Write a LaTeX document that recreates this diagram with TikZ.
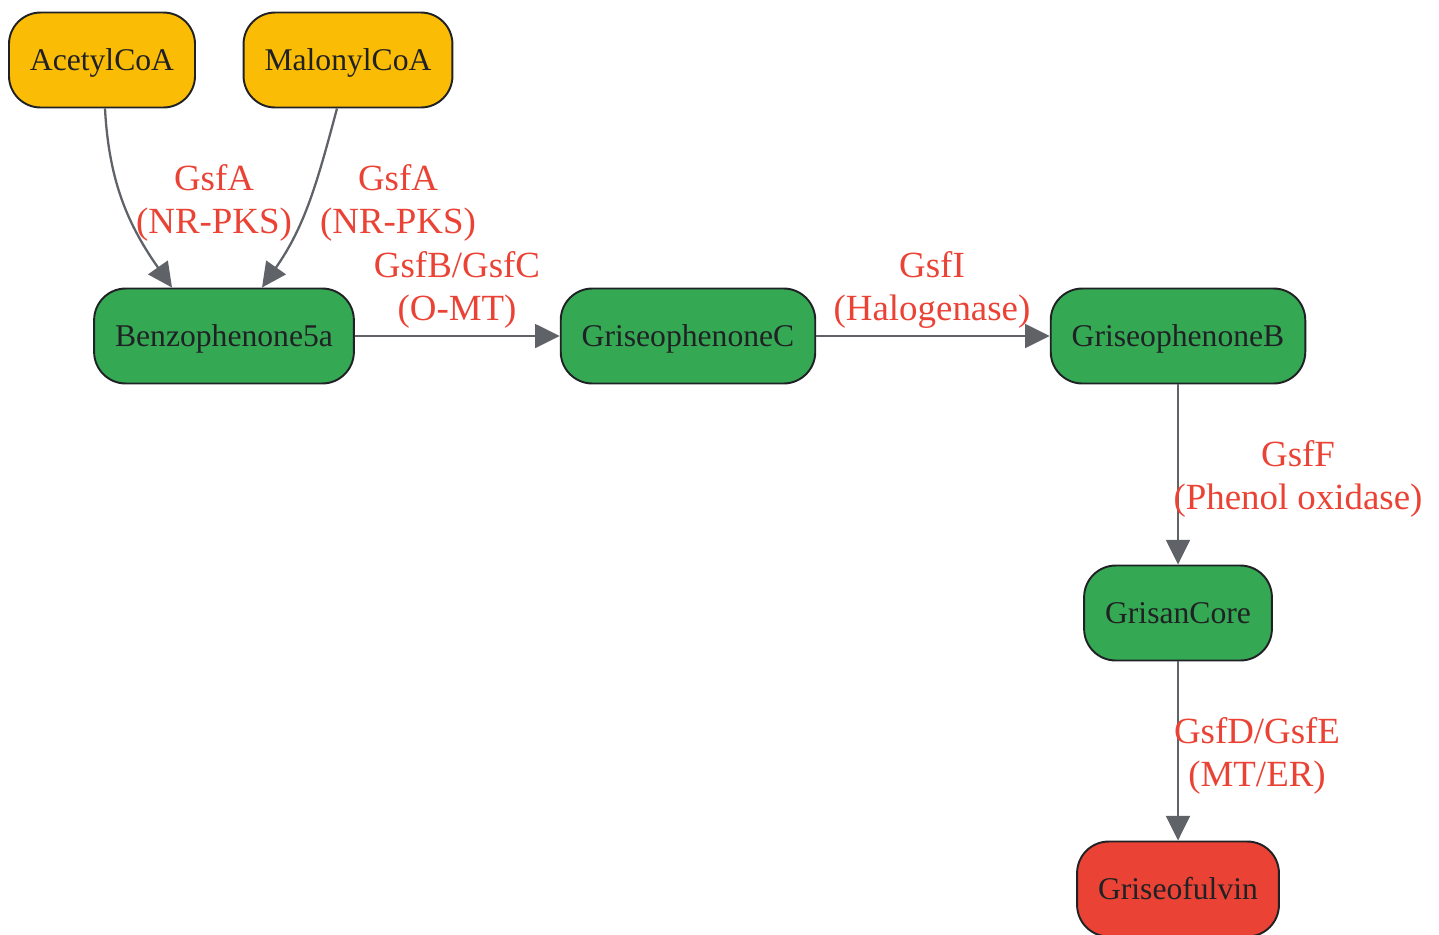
\documentclass[tikz,border=0pt]{standalone}
\usepackage{fontspec}
\setmainfont{Liberation Serif}
\usetikzlibrary{arrows.meta}

\definecolor{precursorfill}{HTML}{FBBC05}
\definecolor{intermfill}{HTML}{34A853}
\definecolor{productfill}{HTML}{EA4335}
\definecolor{boxline}{HTML}{202124}
\definecolor{edgegray}{HTML}{5F6368}
\definecolor{enzred}{HTML}{EA4335}

\tikzset{
  pathbox/.style={draw=boxline, line width=1.1pt, rounded corners=18pt,
    minimum height=1.9cm, inner xsep=0.42cm, text=boxline,
    text height=16pt, text depth=3.6pt,
    font=\fontsize{18}{20}\selectfont},
  precursor/.style={pathbox, fill=precursorfill},
  interm/.style={pathbox, fill=intermfill},
  product/.style={pathbox, fill=productfill},
  reaction/.style={draw=edgegray, line width=1.3pt,
    -{Triangle[length=14pt,width=13.5pt]}},
  enzyme/.style={text=enzred, align=center, inner sep=0pt,
    font=\fontsize{21}{24.4}\selectfont}
}

\begin{document}
\begin{tikzpicture}[x=0.02cm, y=-0.02cm]
        \useasboundingbox (0,0) rectangle (1439,934);

        % Precursors
        \node[precursor] (acetyl) at (102,60) {AcetylCoA};
        \node[precursor] (malonyl) at (348,60) {MalonylCoA};

        % Pathway intermediates
        \node[interm] (benzo) at (224,336) {Benzophenone5a};
        \node[interm] (grisC) at (688,336) {GriseophenoneC};
        \node[interm] (grisB) at (1178,336) {GriseophenoneB};
        \node[interm] (grisan) at (1178,613) {GrisanCore};

        % Final product
        \node[product] (griseo) at (1178,889) {Griseofulvin};

        % Polyketide assembly
        \draw[reaction] ([xshift=0.06cm]acetyl.south) to[out=-87,in=125] ([xshift=-1.04cm]benzo.north);
        \draw[reaction] ([xshift=-0.22cm]malonyl.south) to[out=-105,in=55] ([xshift=0.76cm]benzo.north);
        \node[enzyme] (gsfA1) at (214,203) {GsfA\\(NR-PKS)};
        \node[enzyme] (gsfA2) at (398,203) {GsfA\\(NR-PKS)};

        % Tailoring steps
        \draw[reaction] (benzo) -- (grisC);
        \node[enzyme] (gsfBC) at (457,290) {GsfB/GsfC\\(O-MT)};
        \draw[reaction] (grisC) -- (grisB);
        \node[enzyme] (gsfI) at (932,290) {GsfI\\(Halogenase)};
        \draw[reaction] (grisB) -- (grisan);
        \node[enzyme] (gsfF) at (1298,479) {GsfF\\(Phenol oxidase)};
        \draw[reaction] (grisan) -- (griseo);
        \node[enzyme] (gsfDE) at (1257,756) {GsfD/GsfE\\(MT/ER)};
      \end{tikzpicture}
\end{document}
